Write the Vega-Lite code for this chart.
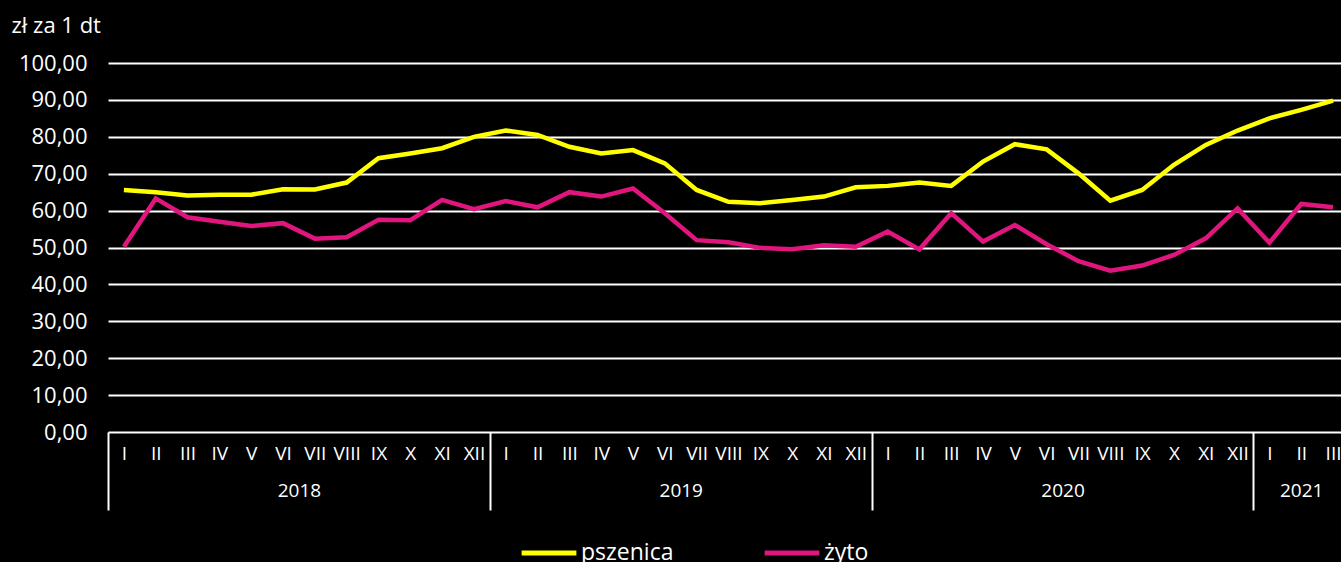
{
  "$schema": "https://vega.github.io/schema/vega-lite/v6.json",
  "autosize": {"type": "none"},
  "padding": {"left": 108, "top": 63, "right": 0, "bottom": 130},
  "width": 1233,
  "height": 369,
  "background": "#000000",
  "config": {
    "view": {"stroke": null},
    "font": "Open Sans"
  },
  "data": {
    "values": [
      {"i": 0, "s": "pszenica", "v": 65.6}, {"i": 1, "s": "pszenica", "v": 65.0}, {"i": 2, "s": "pszenica", "v": 64.1},
      {"i": 3, "s": "pszenica", "v": 64.3}, {"i": 4, "s": "pszenica", "v": 64.3}, {"i": 5, "s": "pszenica", "v": 65.8},
      {"i": 6, "s": "pszenica", "v": 65.7}, {"i": 7, "s": "pszenica", "v": 67.6}, {"i": 8, "s": "pszenica", "v": 74.2},
      {"i": 9, "s": "pszenica", "v": 75.5}, {"i": 10, "s": "pszenica", "v": 76.9}, {"i": 11, "s": "pszenica", "v": 80.0},
      {"i": 12, "s": "pszenica", "v": 81.7}, {"i": 13, "s": "pszenica", "v": 80.5}, {"i": 14, "s": "pszenica", "v": 77.3},
      {"i": 15, "s": "pszenica", "v": 75.5}, {"i": 16, "s": "pszenica", "v": 76.4}, {"i": 17, "s": "pszenica", "v": 72.8},
      {"i": 18, "s": "pszenica", "v": 65.6}, {"i": 19, "s": "pszenica", "v": 62.4}, {"i": 20, "s": "pszenica", "v": 62.0},
      {"i": 21, "s": "pszenica", "v": 62.9}, {"i": 22, "s": "pszenica", "v": 63.8}, {"i": 23, "s": "pszenica", "v": 66.3},
      {"i": 24, "s": "pszenica", "v": 66.7}, {"i": 25, "s": "pszenica", "v": 67.6}, {"i": 26, "s": "pszenica", "v": 66.7},
      {"i": 27, "s": "pszenica", "v": 73.3}, {"i": 28, "s": "pszenica", "v": 78.0}, {"i": 29, "s": "pszenica", "v": 76.6},
      {"i": 30, "s": "pszenica", "v": 70.1}, {"i": 31, "s": "pszenica", "v": 62.7}, {"i": 32, "s": "pszenica", "v": 65.6},
      {"i": 33, "s": "pszenica", "v": 72.4}, {"i": 34, "s": "pszenica", "v": 77.8}, {"i": 35, "s": "pszenica", "v": 81.7},
      {"i": 36, "s": "pszenica", "v": 85.0}, {"i": 37, "s": "pszenica", "v": 87.3}, {"i": 38, "s": "pszenica", "v": 89.8},
      {"i": 0, "s": "żyto", "v": 50.2}, {"i": 1, "s": "żyto", "v": 63.3}, {"i": 2, "s": "żyto", "v": 58.2},
      {"i": 3, "s": "żyto", "v": 57.0}, {"i": 4, "s": "żyto", "v": 55.8}, {"i": 5, "s": "żyto", "v": 56.6},
      {"i": 6, "s": "żyto", "v": 52.4}, {"i": 7, "s": "żyto", "v": 52.8}, {"i": 8, "s": "żyto", "v": 57.5},
      {"i": 9, "s": "żyto", "v": 57.4}, {"i": 10, "s": "żyto", "v": 62.9}, {"i": 11, "s": "żyto", "v": 60.4},
      {"i": 12, "s": "żyto", "v": 62.6}, {"i": 13, "s": "żyto", "v": 60.9}, {"i": 14, "s": "żyto", "v": 65.0},
      {"i": 15, "s": "żyto", "v": 63.8}, {"i": 16, "s": "żyto", "v": 66.0}, {"i": 17, "s": "żyto", "v": 59.3},
      {"i": 18, "s": "żyto", "v": 52.0}, {"i": 19, "s": "żyto", "v": 51.4}, {"i": 20, "s": "żyto", "v": 49.9},
      {"i": 21, "s": "żyto", "v": 49.5}, {"i": 22, "s": "żyto", "v": 50.6}, {"i": 23, "s": "żyto", "v": 50.2},
      {"i": 24, "s": "żyto", "v": 54.3}, {"i": 25, "s": "żyto", "v": 49.5}, {"i": 26, "s": "żyto", "v": 59.3},
      {"i": 27, "s": "żyto", "v": 51.6}, {"i": 28, "s": "żyto", "v": 56.1}, {"i": 29, "s": "żyto", "v": 50.9},
      {"i": 30, "s": "żyto", "v": 46.3}, {"i": 31, "s": "żyto", "v": 43.7}, {"i": 32, "s": "żyto", "v": 45.1},
      {"i": 33, "s": "żyto", "v": 48.0}, {"i": 34, "s": "żyto", "v": 52.5}, {"i": 35, "s": "żyto", "v": 60.6},
      {"i": 36, "s": "żyto", "v": 51.3}, {"i": 37, "s": "żyto", "v": 61.8}, {"i": 38, "s": "żyto", "v": 60.9}
    ]
  },
  "resolve": {"axis": {"x": "independent"}},
  "layer": [
    {
      "mark": {"type": "line", "strokeWidth": 4.5, "clip": false},
      "encoding": {
        "x": {
          "field": "i", "type": "quantitative",
          "scale": {"domain": [-0.5, 38.25], "nice": false, "zero": false},
          "axis": {
            "orient": "bottom", "title": null, "values": [0,1,2,3,4,5,6,7,8,9,10,11,12,13,14,15,16,17,18,19,20,21,22,23,24,25,26,27,28,29,30,31,32,33,34,35,36,37,38],
            "labelExpr": "['I','II','III','IV','V','VI','VII','VIII','IX','X','XI','XII'][datum.value % 12]",
            "ticks": false, "domain": false, "grid": false,
            "labelFontSize": 19, "labelColor": "#ffffff",
            "labelPadding": 12, "labelOverlap": false, "labelBound": false, "labelFlush": false
          }
        },
        "y": {
          "field": "v", "type": "quantitative",
          "scale": {"domain": [0, 100], "nice": false},
          "axis": {
            "values": [0,10,20,30,40,50,60,70,80,90,100],
            "labelExpr": "replace(format(datum.value, '.2f'), '.', ',')",
            "ticks": false, "domain": false, "labelOverlap": false,
            "gridColor": "#ffffff", "gridWidth": 2, "gridOpacity": 1,
            "labelColor": "#ffffff", "labelFontSize": 22, "labelPadding": 21,
            "title": "zł za 1 dt", "titleAngle": 0, "titleAlign": "left", "titleBaseline": "alphabetic",
            "titleX": -97, "titleY": -31, "titleColor": "#ffffff", "titleFontSize": 22, "titleFontWeight": "normal"
          }
        },
        "color": {
          "field": "s", "type": "nominal",
          "scale": {"domain": ["pszenica", "żyto"], "range": ["#FFFF00", "#E0157D"]},
          "legend": {
            "title": null, "orient": "none", "direction": "horizontal",
            "legendX": 411, "legendY": 460,
            "symbolType": "stroke", "symbolSize": 3000, "symbolStrokeWidth": 5,
            "labelColor": "#ffffff", "labelFontSize": 23, "labelOffset": 2,
            "columnPadding": 80
          }
        }
      }
    },
    {
      "mark": {"type": "point", "opacity": 0},
      "encoding": {
        "x": {
          "field": "i", "type": "quantitative",
          "axis": {
            "orient": "bottom", "title": null, "values": [-0.5, 11.5, 23.5, 35.5],
            "labels": false, "ticks": true, "tickSize": 78, "tickColor": "#ffffff", "tickWidth": 2,
            "domain": false, "grid": false
          }
        }
      }
    },
    {
      "mark": {"type": "point", "opacity": 0},
      "encoding": {
        "x": {
          "field": "i", "type": "quantitative",
          "axis": {
            "orient": "bottom", "title": null, "values": [5.5, 17.5, 29.5, 37],
            "labelExpr": "datum.value < 11 ? '2018' : datum.value < 23 ? '2019' : datum.value < 35 ? '2020' : '2021'",
            "ticks": false, "domain": false, "grid": false,
            "labelFontSize": 19, "labelColor": "#ffffff",
            "labelPadding": 49, "labelOverlap": false, "labelBound": false, "labelFlush": false
          }
        }
      }
    }
  ]
}
